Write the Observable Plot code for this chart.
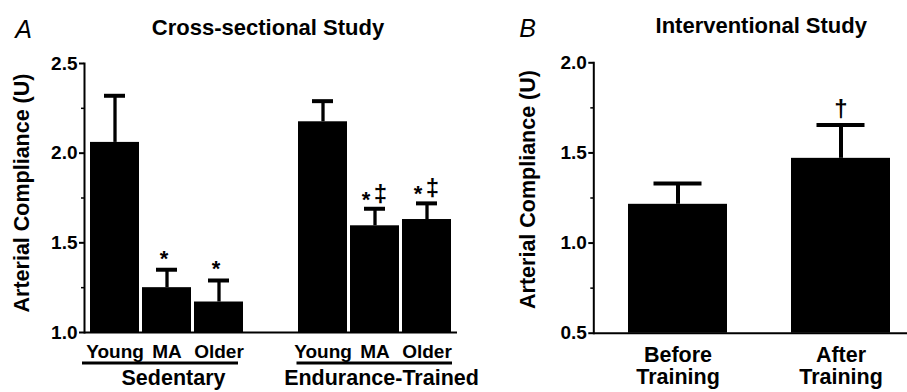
<!DOCTYPE html>
<html><head><meta charset="utf-8">
<script src="https://cdn.jsdelivr.net/npm/d3@7"></script>
<script src="https://cdn.jsdelivr.net/npm/@observablehq/plot@0.6"></script>
<style>
body{margin:0;background:#fff;}
#wrap{position:relative;width:907px;height:392px;overflow:hidden;}
#a,#b{position:absolute;top:0;}
#a{left:0;} #b{left:460px;}
</style></head><body><div id="wrap"><div id="a"></div><div id="b"></div></div>
<script>
const FONT = "'Liberation Sans', Arial, Helvetica, sans-serif";

// ---- Panel A: Cross-sectional Study ----
const titleA = "Cross-sectional Study";
const groupsA = ["Sedentary", "Endurance-Trained"];
const groupOfA = ["Sedentary", "Sedentary", "Sedentary", "Endurance-Trained", "Endurance-Trained", "Endurance-Trained"];
const agesA = ["Young", "MA", "Older", "Young", "MA", "Older"];
const meansA = [2.06, 1.25, 1.17, 2.175, 1.595, 1.63];
const semA = [0.26, 0.10, 0.12, 0.115, 0.095, 0.09];
const starA = ["", "*", "*", "", "*", "*"];
const ddA = ["", "", "", "", "‡", "‡"];
const yDomainA = [1.0, 2.5];
const yTicksA = [1.0, 1.5, 2.0, 2.5];
const yMinorA = [1.25, 1.75, 2.25];

// ---- Panel B: Interventional Study ----
const titleB = "Interventional Study";
const catsB = ["Before\nTraining", "After\nTraining"];
const meansB = [1.215, 1.47];
const semB = [0.115, 0.185];
const markB = ["", "†"];
const yDomainB = [0.5, 2.0];
const yTicksB = [0.5, 1.0, 1.5, 2.0];
const yMinorB = [0.75, 1.25, 1.75];

const yLabel = "Arterial Compliance (U)";
const fmt = d3.format(".1f");

// build tables
const keyA = (g, a) => g + ":" + a;
const rowsA = agesA.map((a, i) => ({
  key: keyA(groupOfA[i], a), group: groupOfA[i], age: a,
  base: yDomainA[0], mean: meansA[i], top: meansA[i] + semA[i],
  star: starA[i], dd: ddA[i]
}));
const domainA = [...rowsA.slice(0, 3).map(d => d.key), "gap", ...rowsA.slice(3).map(d => d.key)];
const groupRowsA = groupsA.map(g => {
  const r = rowsA.filter(d => d.group === g);
  return {group: g, first: r[0].key, mid: r[1].key, last: r[r.length - 1].key, base: yDomainA[0]};
});

const style = {fontFamily: FONT, fontWeight: "bold", color: "#000", background: "transparent", overflow: "visible"};

const plotA = Plot.plot({
  width: 460, height: 392,
  marginLeft: 84, marginRight: 3, marginTop: 63, marginBottom: 60,
  x: {domain: domainA, range: [87, 453.7], paddingInner: 0.064, paddingOuter: 0, axis: null},
  y: {domain: yDomainA},
  style,
  marks: [
    Plot.barY(rowsA, {x: "key", y1: "base", y2: "mean", fill: "#000"}),
    Plot.ruleX(rowsA, {x: "key", y1: "mean", y2: "top", stroke: "#000", strokeWidth: 3.3}),
    Plot.tickY(rowsA, {x: "key", y: "top", stroke: "#000", strokeWidth: 4, insetLeft: 14, insetRight: 14}),
    Plot.text(rowsA.filter(d => d.star && !d.dd), {x: "key", y: "top", text: "star", dx: -3, dy: -4, lineAnchor: "bottom", fontSize: 22}),
    Plot.text(rowsA.filter(d => d.star && d.dd), {x: "key", y: "top", text: "star", dx: -9, dy: -2, lineAnchor: "bottom", fontSize: 22}),
    Plot.text(rowsA.filter(d => d.dd), {x: "key", y: "top", text: "dd", dx: 5.5, dy: -7, lineAnchor: "bottom", fontSize: 24}),
    Plot.frame({anchor: "left", stroke: "#000", strokeWidth: 2}),
    Plot.ruleY([yDomainA[0]], {stroke: "#000", strokeWidth: 2}),
    Plot.axisY(yTicksA, {tickSize: 5, tickPadding: 2, tickFormat: fmt, fontSize: 19, strokeWidth: 2, label: null}),
    Plot.axisY(yMinorA, {tickSize: 3, tickFormat: () => "", strokeWidth: 1.5, label: null}),
    Plot.text(rowsA, {x: "key", y: "base", text: "age", dy: 25.5, lineAnchor: "bottom", fontSize: 19}),
    Plot.ruleY(groupRowsA.slice(0, 1), {x1: "first", x2: "last", y: "base", dy: 30.5, stroke: "#000", strokeWidth: 3, insetLeft: -8, insetRight: 5}),
    Plot.ruleY(groupRowsA.slice(1), {x1: "first", x2: "last", y: "base", dy: 30.5, stroke: "#000", strokeWidth: 3, insetLeft: -1.5, insetRight: -1}),
    Plot.text(groupRowsA, {x: "mid", y: "base", text: "group", dx: 6.5, dy: 52, lineAnchor: "bottom", fontSize: 21.5}),
    Plot.text([yLabel], {frameAnchor: "left", textAnchor: "middle", rotate: -90, dx: -62, dy: -5, fontSize: 21.5}),
    Plot.text([titleA], {frameAnchor: "top", textAnchor: "middle", dx: -3, dy: -28.7, lineAnchor: "bottom", fontSize: 22}),
    Plot.text(["A"], {frameAnchor: "top-left", textAnchor: "middle", dx: -61, dy: -26, lineAnchor: "bottom", fontSize: 25, fontStyle: "italic", fontWeight: "normal"})
  ]
});
document.getElementById("a").appendChild(plotA);

const rowsB = catsB.map((c, i) => ({cat: c, base: yDomainB[0], mean: meansB[i], top: meansB[i] + semB[i], mark: markB[i]}));

const plotB = Plot.plot({
  width: 447, height: 392,
  marginLeft: 133.3, marginRight: 0, marginTop: 62.3, marginBottom: 59.3,
  x: {domain: catsB, range: [167.3, 429.7], paddingInner: 0.393, paddingOuter: 0, axis: null},
  y: {domain: yDomainB},
  style,
  marks: [
    Plot.barY(rowsB, {x: "cat", y1: "base", y2: "mean", fill: "#000"}),
    Plot.ruleX(rowsB, {x: "cat", y1: "mean", y2: "top", stroke: "#000", strokeWidth: 4}),
    Plot.tickY(rowsB, {x: "cat", y: "top", stroke: "#000", strokeWidth: 4, insetLeft: 25.5, insetRight: 25.5}),
    Plot.text(rowsB, {x: "cat", y: "top", text: "mark", dy: -8, lineAnchor: "bottom", fontSize: 24}),
    Plot.frame({anchor: "left", stroke: "#000", strokeWidth: 2}),
    Plot.ruleY([yDomainB[0]], {stroke: "#000", strokeWidth: 2}),
    Plot.axisY(yTicksB, {tickSize: 5, tickPadding: 2, tickFormat: fmt, fontSize: 19, strokeWidth: 2, label: null}),
    Plot.axisY(yMinorB, {tickSize: 3, tickFormat: () => "", strokeWidth: 1.5, label: null}),
    Plot.text(rowsB, {x: "cat", y: "base", text: "cat", dy: 51, lineAnchor: "bottom", lineHeight: 1.05, fontSize: 21.5}),
    Plot.text([yLabel], {frameAnchor: "left", textAnchor: "middle", rotate: -90, dx: -65.8, dy: -8.5, fontSize: 21.5}),
    Plot.text([titleB], {frameAnchor: "top", textAnchor: "middle", dx: 10.6, dy: -30, lineAnchor: "bottom", fontSize: 22}),
    Plot.text(["B"], {frameAnchor: "top-left", textAnchor: "middle", dx: -66.3, dy: -26.3, lineAnchor: "bottom", fontSize: 25, fontStyle: "italic", fontWeight: "normal"})
  ]
});
document.getElementById("b").appendChild(plotB);
</script>
</body></html>
